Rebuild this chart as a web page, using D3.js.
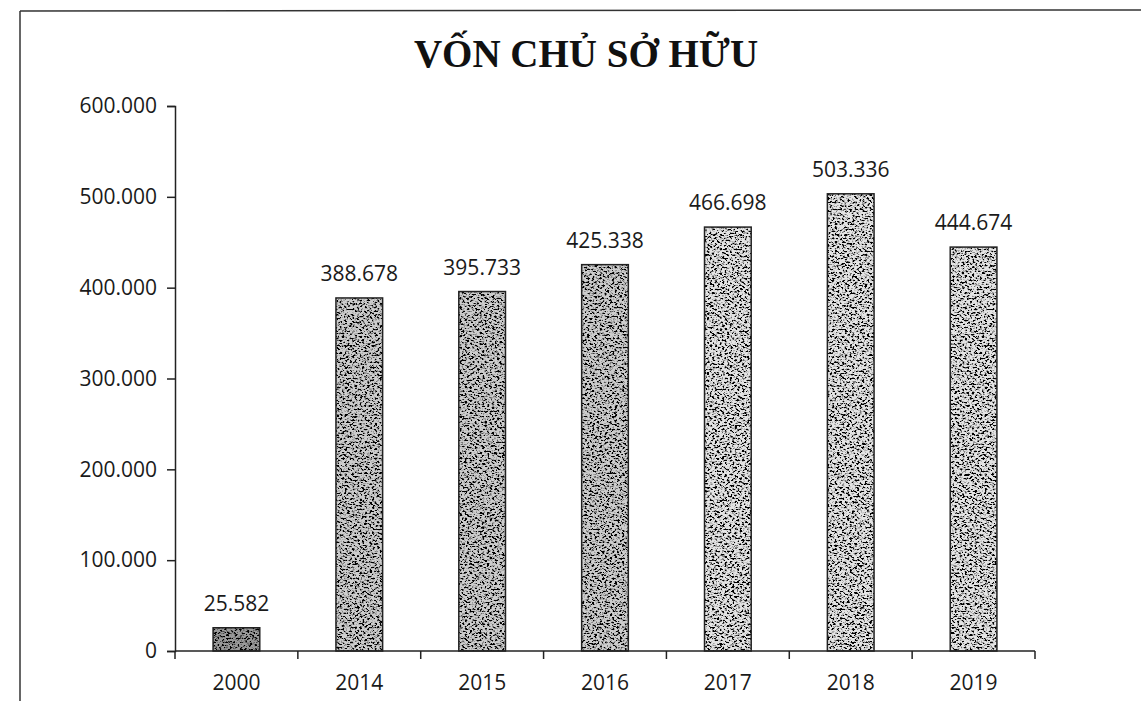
<!DOCTYPE html>
<html>
<head>
<meta charset="utf-8">
<script src="https://cdn.jsdelivr.net/npm/d3@7"></script>
<style>
  html, body { margin: 0; padding: 0; background: #fff; }
  svg { display: block; }
  .tick text { font-family: "Open Sans", sans-serif; font-size: 21px; fill: #1a1a1a; }
</style>
</head>
<body>
<div id="chart"></div>
<script>
const title = "VỐN CHỦ SỞ HỮU";
const years = ["2000", "2014", "2015", "2016", "2017", "2018", "2019"];
const equity = [25582, 388678, 395733, 425338, 466698, 503336, 444674];
const yTicks = [0, 100000, 200000, 300000, 400000, 500000, 600000];

const width = 1141;
const height = 701;

// dấu chấm ngăn cách hàng nghìn
const vn = d3.formatLocale({ decimal: ",", thousands: ".", grouping: [3], currency: ["", ""] });
const fmt = vn.format(",d");

// bar 2000 darker, 2014-2016 medium, 2017-2019 lighter
function barFill(i) {
  if (i === 0) return "#9a9a9a";
  if (i <= 3) return "#cdcdcd";
  return "#e4e4e4";
}

const svg = d3.select("#chart")
  .append("svg")
  .attr("width", width)
  .attr("height", height);

const defs = svg.append("defs");
const filt = defs.append("filter")
  .attr("id", "grain")
  .attr("x", 0).attr("y", 0).attr("width", 1).attr("height", 1);
filt.append("feTurbulence")
  .attr("type", "fractalNoise")
  .attr("baseFrequency", "0.4 0.55")
  .attr("numOctaves", 3)
  .attr("seed", 7)
  .attr("result", "n");
filt.append("feColorMatrix")
  .attr("in", "n")
  .attr("type", "matrix")
  .attr("values", "0 0 0 0 0  0 0 0 0 0  0 0 0 0 0  -6 0 0 0 3.2")
  .attr("result", "specks");
filt.append("feComposite")
  .attr("in", "specks")
  .attr("in2", "SourceGraphic")
  .attr("operator", "in")
  .attr("result", "clip");
const merge = filt.append("feMerge");
merge.append("feMergeNode").attr("in", "SourceGraphic");
merge.append("feMergeNode").attr("in", "clip");

// scanned page frame
svg.append("line")
  .attr("x1", 20).attr("y1", 11).attr("x2", 20).attr("y2", height)
  .attr("stroke", "#333").attr("stroke-width", 1.5);
svg.append("line")
  .attr("x1", 20).attr("y1", 11).attr("x2", width).attr("y2", 10)
  .attr("stroke", "#333").attr("stroke-width", 1.5);

svg.append("text")
  .attr("x", 586)
  .attr("y", 67)
  .attr("text-anchor", "middle")
  .attr("font-family", "'Liberation Serif', 'Times New Roman', serif")
  .attr("font-weight", "bold")
  .attr("font-size", "39px")
  .attr("fill", "#111")
  .text(title);

const x = d3.scaleBand()
  .domain(years)
  .range([175, 1035])
  .paddingInner(0.62)
  .paddingOuter(0.31);

const y = d3.scaleLinear()
  .domain([0, 600000])
  .range([651, 106]);

// y axis
const yAxis = svg.append("g")
  .attr("transform", `translate(${x.range()[0]},0)`)
  .call(d3.axisLeft(y).tickValues(yTicks).tickSize(8).tickPadding(10).tickFormat(d => d === 0 ? "0" : fmt(d)));
yAxis.selectAll("path, line").attr("stroke", "#222").attr("stroke-width", 1.5);

// bars
const bars = svg.append("g")
  .selectAll("g")
  .data(years)
  .enter()
  .append("g");

bars.append("rect")
  .attr("x", d => x(d))
  .attr("y", (d, i) => y(equity[i]))
  .attr("width", x.bandwidth())
  .attr("height", (d, i) => y(0) - y(equity[i]))
  .attr("fill", (d, i) => barFill(i))
  .attr("filter", "url(#grain)");

bars.append("rect")
  .attr("x", d => x(d))
  .attr("y", (d, i) => y(equity[i]))
  .attr("width", x.bandwidth())
  .attr("height", (d, i) => y(0) - y(equity[i]))
  .attr("fill", "none")
  .attr("stroke", "#222")
  .attr("stroke-width", 1.5);

bars.append("text")
  .attr("x", d => x(d) + x.bandwidth() / 2)
  .attr("y", (d, i) => y(equity[i]) - 17)
  .attr("text-anchor", "middle")
  .attr("font-family", "'Open Sans', sans-serif")
  .attr("font-size", "21px")
  .attr("fill", "#1a1a1a")
  .text((d, i) => fmt(equity[i]));

// x axis: line, ticks between categories, labels under bars
const step = x.step();
const bounds = years.map(d => x(d) - step * x.paddingInner() / 2).concat([x.range()[1]]);

const xAxis = svg.append("g")
  .attr("transform", `translate(0,${y(0)})`);
xAxis.append("line")
  .attr("x1", x.range()[0]).attr("x2", x.range()[1])
  .attr("stroke", "#222").attr("stroke-width", 1.5);
xAxis.selectAll("line.b")
  .data(bounds)
  .enter()
  .append("line")
  .attr("class", "b")
  .attr("x1", d => d).attr("x2", d => d)
  .attr("y1", 0).attr("y2", 8)
  .attr("stroke", "#222").attr("stroke-width", 1.5);

const labels = svg.append("g")
  .attr("transform", `translate(0,${y(0)})`)
  .call(d3.axisBottom(x).tickSize(0).tickPadding(24));
labels.select(".domain").remove();
</script>
</body>
</html>
